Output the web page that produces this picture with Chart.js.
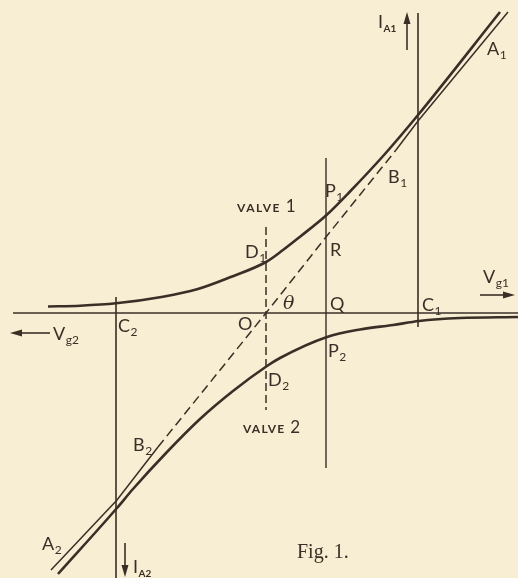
<!DOCTYPE html>
<html>
<head>
<meta charset="utf-8">
<script src="https://cdn.jsdelivr.net/npm/chart.js@4/dist/chart.umd.min.js"></script>
<style>
  html, body { margin: 0; padding: 0; background: #f8eed3; }
  canvas { display: block; }
</style>
</head>
<body>
<canvas id="fig" width="518" height="578"></canvas>
<script>
// Push-pull valve characteristics. Grid volts along x, anode current along y,
// both in arbitrary units with the origin at the common bias point O.

// Valve 1: I_A1 against V_g1
const valve1Vg = [-21.8, -18.6, -15.0, -10.3, -6.9, -3.6, 0.0, 1.7, 3.4, 6.0, 8.4, 11.8, 15.2, 23.4];
const valve1Ia = [0.65, 0.73, 0.97, 1.63, 2.37, 3.57, 5.1, 6.3, 7.63, 9.75, 12.15, 15.8, 19.8, 30.1];

// Valve 2: I_A2 (drawn downward) against V_g2 (drawn leftward)
const valve2Vg = [-20.8, -14.9, -13.3, -9.9, -6.6, -3.3, 0.1, 1.4, 6.1, 9.4, 12.7, 15.3, 19.4, 25.2];
const valve2Ia = [-26.1, -19.5, -17.6, -13.9, -10.6, -7.8, -5.3, -4.5, -2.4, -1.65, -1.2, -0.8, -0.5, -0.4];

// Combined characteristic A2 B2 O R B1 A1
const combinedVg = [-21.5, -14.9, -10.8, 0.0, 6.0, 13.0, 15.2, 24.2];
const combinedIa = [-25.7, -18.7, -13.4, 0.0, 7.6, 16.3, 19.2, 30.1];

// Grid-volt positions of the ordinates
const cutoffVg1 = 15.2;   // C1
const cutoffVg2 = -15.0;  // C2
const signalVg = 6.0;     // Q
const biasVg = 0.0;       // O

const INK = '#3a2f27';
const PAPER = '#f8eed3';

const toPoints = (xs, ys) => xs.map((x, i) => ({ x, y: ys[i] }));

// Span of the combined line that is shown dashed (between B2 and B1)
const DASH_FROM = -10.8, DASH_TO = 13.0;

const datasets = [
  { // V_g axis
    data: [{ x: -25.3, y: 0 }, { x: 25.2, y: 0 }],
    borderWidth: 1.3
  },
  { // C1 ordinate, carrying the I_A1 axis
    data: [{ x: cutoffVg1, y: 30.0 }, { x: cutoffVg1, y: -1.4 }],
    borderWidth: 1.6
  },
  { // C2 ordinate, carrying the I_A2 axis
    data: [{ x: cutoffVg2, y: 1.6 }, { x: cutoffVg2, y: -26.5 }],
    borderWidth: 1.6
  },
  { // P1 Q P2 ordinate
    data: [{ x: signalVg, y: 15.5 }, { x: signalVg, y: -15.5 }],
    borderWidth: 1.4
  },
  { // bias line through O, valve 1 above / valve 2 below
    data: [{ x: biasVg, y: 8.6 }, { x: biasVg, y: -9.7 }],
    borderWidth: 1.5,
    borderDash: [8, 4]
  },
  { // combined characteristic
    data: toPoints(combinedVg, combinedIa),
    borderWidth: 1.5,
    tension: 0,
    segment: {
      borderDash: c => (c.p0.parsed.x >= DASH_FROM - 0.01 && c.p1.parsed.x <= DASH_TO + 0.01) ? [9, 5] : undefined
    }
  },
  { // valve 1 curve
    data: toPoints(valve1Vg, valve1Ia),
    borderWidth: 2.6,
    cubicInterpolationMode: 'monotone'
  },
  { // valve 2 curve
    data: toPoints(valve2Vg, valve2Ia),
    borderWidth: 2.6,
    cubicInterpolationMode: 'monotone'
  }
].map(d => Object.assign({
  showLine: true, pointRadius: 0, pointHoverRadius: 0,
  borderColor: INK, backgroundColor: INK, fill: false, clip: false
}, d));

// Axis arrows: [x0, y0, x1, y1] in data units, head at (x1, y1)
const arrows = [
  [14.1, 26.3, 14.1, 30.1],    // I_A1 up
  [21.4, 1.8, 24.9, 1.8],      // V_g1 right
  [-21.6, -2.0, -25.6, -2.0],  // V_g2 left
  [-14.1, -23.0, -14.1, -26.4] // I_A2 down
];

const LETTER = '18px Lato, "DejaVu Sans", sans-serif';
const SUB = '12px Lato, "DejaVu Sans", sans-serif';
const SUB_BOLD = 'bold 10px Lato, "DejaVu Sans", sans-serif';
const SMALL_BOLD = 'bold 12px Lato, "DejaVu Sans", sans-serif';
const NUMERAL = '17px Lato, "DejaVu Sans", sans-serif';

// Lettering: [x, y (baseline), main text, second part, font, second font, drop of second part, tracking]
const labels = [
  [11.2, 28.5, 'I', 'A1', LETTER, SUB_BOLD, 4, 0],
  [22.1, 25.8, 'A', '1', LETTER, SUB, 4, 0],
  [12.2, 13.0, 'B', '1', LETTER, SUB, 4, 0],
  [5.9, 11.6, 'P', '1', LETTER, SUB, 4, 0],
  [6.4, 5.7, 'R', '', LETTER, '', 0, 0],
  [-2.9, 10.1, 'VALVE', ' 1', SMALL_BOLD, NUMERAL, 0, 1.5],
  [-2.1, 5.5, 'D', '1', LETTER, SUB, 4, 0],
  [21.7, 3.0, 'V', 'g1', LETTER, SUB, 4, 0],
  [6.4, 0.3, 'Q', '', LETTER, '', 0, 0],
  [1.7, 0.4, 'θ', '', 'italic 19px "DejaVu Serif", serif', '', 0, 0],
  [15.6, 0.2, 'C', '1', LETTER, SUB, 4, 0],
  [-14.8, -1.9, 'C', '2', LETTER, SUB, 4, 0],
  [-2.8, -1.7, 'O', '', LETTER, '', 0, 0],
  [-21.3, -2.7, 'V', 'g2', LETTER, SUB, 4, 0],
  [6.2, -4.4, 'P', '2', LETTER, SUB, 4, 0],
  [0.2, -7.3, 'D', '2', LETTER, SUB, 4, 0],
  [-2.3, -12.0, 'VALVE', ' 2', SMALL_BOLD, NUMERAL, 0, 1.2],
  [-13.3, -13.8, 'B', '2', LETTER, SUB, 4, 0],
  [-22.4, -23.7, 'A', '2', LETTER, SUB, 4, 0],
  [-13.3, -26.0, 'I', 'A2', LETTER, SUB_BOLD, 4, 0],
  [3.1, -24.5, 'Fig. 1.', '', '20px "Liberation Serif", "DejaVu Serif", serif', '', 0, 0]
];

const paperPlugin = {
  id: 'paper',
  beforeDraw(chart) {
    const { ctx, width, height } = chart;
    ctx.save();
    ctx.fillStyle = PAPER;
    ctx.fillRect(0, 0, width, height);
    ctx.restore();
  }
};

const letteringPlugin = {
  id: 'lettering',
  afterDatasetsDraw(chart) {
    const { ctx, scales: { x: sx, y: sy } } = chart;
    ctx.save();
    ctx.strokeStyle = INK;
    ctx.fillStyle = INK;
    ctx.lineWidth = 1.6;
    arrows.forEach(([x0, y0, x1, y1]) => {
      const ax = sx.getPixelForValue(x0), ay = sy.getPixelForValue(y0);
      const bx = sx.getPixelForValue(x1), by = sy.getPixelForValue(y1);
      const ang = Math.atan2(by - ay, bx - ax);
      const len = 12, half = 3.5;
      ctx.beginPath();
      ctx.moveTo(ax, ay);
      ctx.lineTo(bx - Math.cos(ang) * len * 0.8, by - Math.sin(ang) * len * 0.8);
      ctx.stroke();
      ctx.beginPath();
      ctx.moveTo(bx, by);
      ctx.lineTo(bx - Math.cos(ang) * len - Math.sin(ang) * half, by - Math.sin(ang) * len + Math.cos(ang) * half);
      ctx.lineTo(bx - Math.cos(ang) * len + Math.sin(ang) * half, by - Math.sin(ang) * len - Math.cos(ang) * half);
      ctx.closePath();
      ctx.fill();
    });
    ctx.textAlign = 'left';
    ctx.textBaseline = 'alphabetic';
    labels.forEach(([x, y, main, sub, font, subFont, drop, tracking]) => {
      const px = sx.getPixelForValue(x), py = sy.getPixelForValue(y);
      ctx.font = font;
      ctx.letterSpacing = tracking + 'px';
      ctx.fillText(main, px, py);
      const w = ctx.measureText(main).width;
      ctx.letterSpacing = '0px';
      if (sub) {
        ctx.font = subFont;
        ctx.fillText(sub, px + w + 0.5, py + drop);
      }
    });
    ctx.restore();
  }
};

new Chart(document.getElementById('fig'), {
  type: 'scatter',
  data: { datasets },
  options: {
    responsive: false,
    animation: false,
    devicePixelRatio: 1,
    layout: { padding: 0 },
    events: [],
    plugins: { legend: { display: false }, tooltip: { enabled: false } },
    scales: {
      x: { type: 'linear', display: false, min: -26.6, max: 25.2 },
      y: { type: 'linear', display: false, min: -26.5, max: 31.3 }
    }
  },
  plugins: [paperPlugin, letteringPlugin]
});
</script>
</body>
</html>
